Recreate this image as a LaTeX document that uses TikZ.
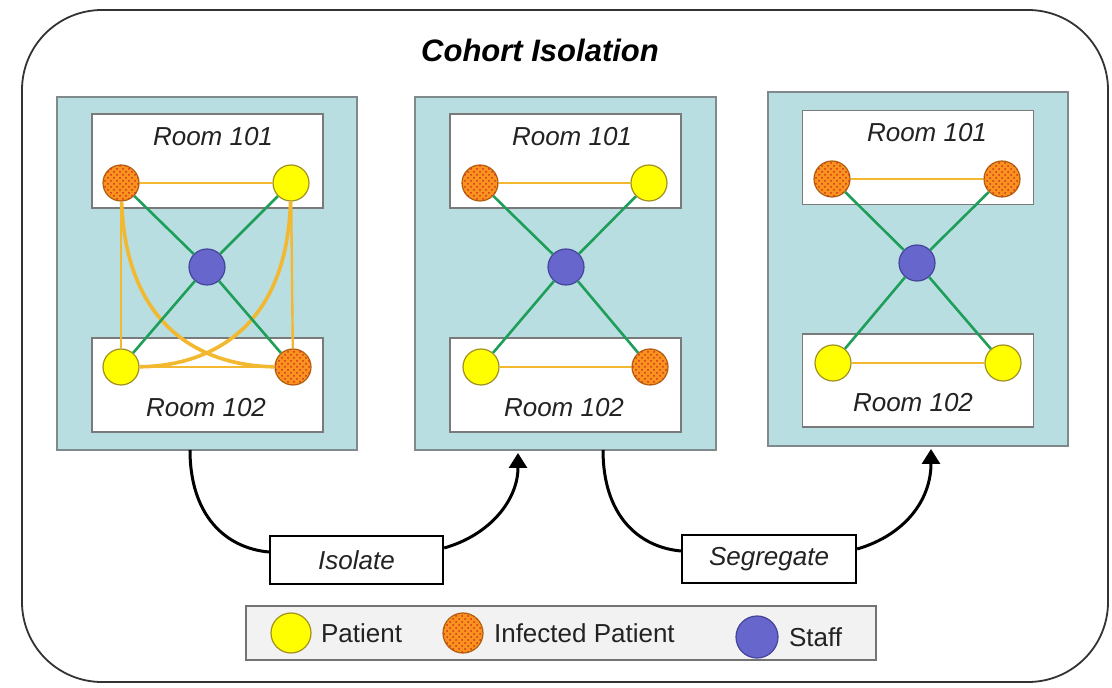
\documentclass[tikz,border=0pt]{standalone}
\usepackage{fontspec}
\setmainfont{Liberation Sans}
\usepackage{tikz}
\usetikzlibrary{patterns}
\usetikzlibrary{calc}
\usetikzlibrary{arrows.meta}

\definecolor{panelfill}{HTML}{B9DEE1}
\definecolor{panelgray}{HTML}{808A8C}
\definecolor{roomgray}{HTML}{7A7A7A}
\definecolor{textgray}{HTML}{222222}
\definecolor{patyellow}{HTML}{FFFF00}
\definecolor{patedge}{HTML}{A09020}
\definecolor{inforange}{HTML}{F7931E}
\definecolor{infedge}{HTML}{B06010}
\definecolor{infdot}{HTML}{D8301C}
\definecolor{staffblue}{HTML}{6666CC}
\definecolor{staffedge}{HTML}{44449A}
\definecolor{contactgold}{HTML}{F2B830}
\definecolor{caregreen}{HTML}{1F9E5A}
\definecolor{legendfill}{HTML}{F2F2F2}

\tikzset{
  panel/.style={draw=panelgray, fill=panelfill, line width=0.7pt, inner sep=0pt},
  roombox/.style={draw=roomgray, fill=white, line width=0.7pt, inner sep=0pt, minimum width=115.5pt, minimum height=47pt},
  roomlabel/.style={font=\itshape\fontsize{13}{15}\selectfont, text=textgray},
  patient/.style={circle, draw=patedge, fill=patyellow, line width=0.6pt, inner sep=0pt, minimum size=18pt},
  infected/.style={circle, draw=infedge, fill=inforange, line width=0.6pt, inner sep=0pt, minimum size=18pt,
    postaction={pattern=crosshatch dots, pattern color=infdot}},
  staff/.style={circle, draw=staffedge, fill=staffblue, line width=0.6pt, inner sep=0pt, minimum size=18pt},
  contact/.style={draw=contactgold, line width=1.2pt},
  care/.style={draw=caregreen, line width=1.3pt},
  actionbox/.style={draw=black, fill=white, line width=1.1pt, inner sep=0pt, minimum height=24pt,
    font=\itshape\fontsize{13}{15}\selectfont, text=textgray},
  flow/.style={line width=1.5pt, -{Triangle[length=7.5pt,width=9pt]}},
  legendtext/.style={anchor=west, font=\fontsize{13}{15}\selectfont, text=textgray}
}

\begin{document}
\begin{tikzpicture}[x=0.5pt, y=-0.5pt]
  \useasboundingbox (0,0) rectangle (1112,688);
  \fill[white] (0,0) rectangle (1112,688);

  % outer frame and title
  \draw[draw=black!80, line width=0.9pt, rounded corners=40pt] (22,10) rectangle (1108,682);
  \node[font=\bfseries\itshape\fontsize{15.5}{18}\selectfont] (title) at (540,50) {Cohort Isolation};

  % panel 1: before
  \node[panel, minimum width=150pt, minimum height=176.5pt] (panel1) at (207,273.5) {};
  \node[roombox] (room1a) at (207.5,161) {};
  \node[roombox] (room1b) at (207.5,385) {};
  \node[roomlabel] (lab1a) at (213,137) {Room 101};
  \node[roomlabel] (lab1b) at (206,408) {Room 102};
  \node[infected] (a1) at (121,183) {};
  \node[patient] (b1) at (291,183) {};
  \node[staff] (s1) at (207,267) {};
  \node[patient] (c1) at (121,367) {};
  \node[infected] (d1) at (293,367) {};
  \draw[contact] (a1) -- (b1);
  \draw[contact] (c1) -- (d1);
  \draw[contact] (a1) -- (c1);
  \draw[contact] (b1) -- (d1);
  \draw[contact, line width=1.8pt] (a1) .. controls (126,330) and (205,366) .. (d1);
  \draw[contact, line width=1.8pt] (b1) .. controls (287,330) and (208,366) .. (c1);
  \foreach \p in {a1,b1,c1,d1} \draw[care] (s1) -- (\p);

  % panel 2: isolated
  \node[panel, minimum width=150.5pt, minimum height=176.5pt] (panel2) at (565.5,273.5) {};
  \node[roombox] (room2a) at (565.5,161) {};
  \node[roombox] (room2b) at (565.5,385) {};
  \node[roomlabel] (lab2a) at (572,137) {Room 101};
  \node[roomlabel] (lab2b) at (564,408) {Room 102};
  \node[infected] (a2) at (480,183) {};
  \node[patient] (b2) at (649,183) {};
  \node[staff] (s2) at (566,267) {};
  \node[patient] (c2) at (481,367) {};
  \node[infected] (d2) at (650,367) {};
  \draw[contact] (a2) -- (b2);
  \draw[contact] (c2) -- (d2);
  \foreach \p in {a2,b2,c2,d2} \draw[care] (s2) -- (\p);

  % panel 3: segregated
  \node[panel, minimum width=150pt, minimum height=177pt] (panel3) at (918,269) {};
  \node[roombox] (room3a) at (918,157.5) {};
  \node[roombox, minimum height=46.5pt] (room3b) at (918,380.5) {};
  \node[roomlabel] (lab3a) at (927,133) {Room 101};
  \node[roomlabel] (lab3b) at (913,403) {Room 102};
  \node[infected] (a3) at (832,179) {};
  \node[infected] (b3) at (1002,179) {};
  \node[staff] (s3) at (917,263) {};
  \node[patient] (c3) at (833,363) {};
  \node[patient] (d3) at (1003,363) {};
  \draw[contact] (a3) -- (b3);
  \draw[contact] (c3) -- (d3);
  \foreach \p in {a3,b3,c3,d3} \draw[care] (s3) -- (\p);

  % steps
  \node[actionbox, minimum width=86.5pt] (isolate) at (356.5,560) {Isolate};
  \node[actionbox, minimum width=87pt] (segregate) at (769,559) {Segregate};
  \coordinate (out1) at (190,450);
  \coordinate (in2) at (518,453);
  \coordinate (out2) at (603,450);
  \coordinate (in3) at (931,449);
  \draw[line width=1.5pt] (out1) .. controls (190,515) and (225,548) .. ([yshift=4pt]isolate.west);
  \draw[flow] ([yshift=6pt]isolate.east) .. controls (490,535) and (518,500) .. (in2);
  \draw[line width=1.5pt] (out2) .. controls (603,515) and (638,547) .. ([yshift=4pt]segregate.west);
  \draw[flow] ([yshift=5pt]segregate.east) .. controls (905,535) and (931,500) .. (in3);

  % legend
  \node[draw=black!55, fill=legendfill, line width=0.7pt, minimum width=315pt, minimum height=27pt] (legend) at (561,633) {};
  \node[patient, minimum width=18pt, minimum height=20pt] (lpat) at (291,633) {};
  \node[legendtext] (tpat) at (314,633) {Patient};
  \node[infected, minimum width=18pt, minimum height=20pt] (linf) at (463,633) {};
  \node[legendtext] (tinf) at (487,633) {Infected Patient};
  \node[staff, minimum width=18pt, minimum height=21pt] (lstaff) at (757,637) {};
  \node[legendtext] (tstaff) at (782,637) {Staff};
\end{tikzpicture}
\end{document}
